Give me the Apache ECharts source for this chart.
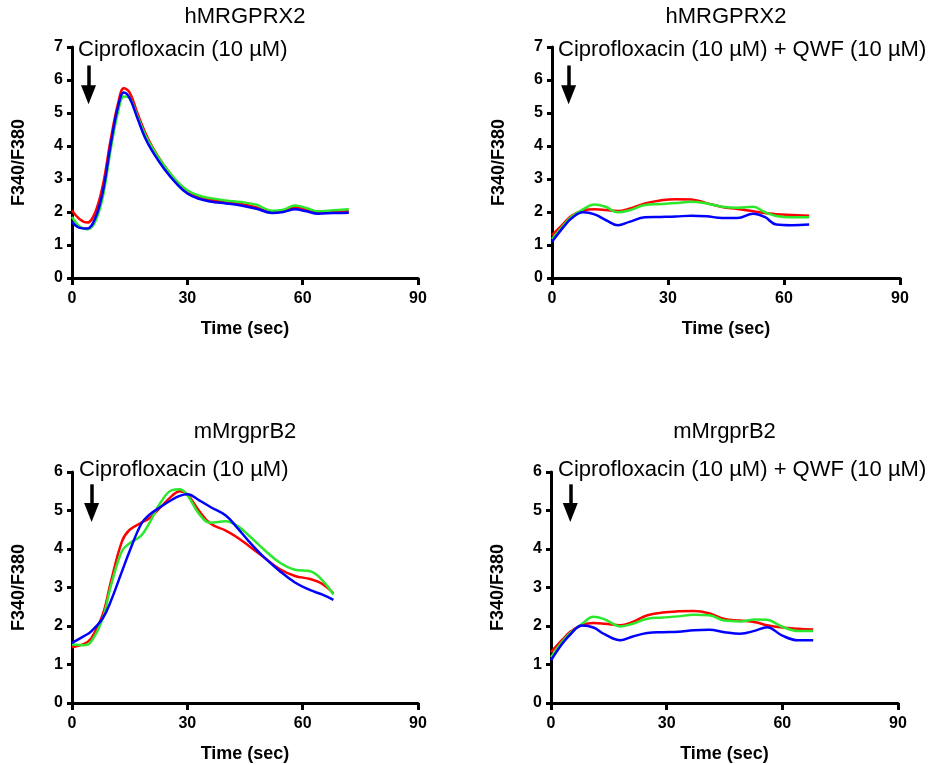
<!DOCTYPE html>
<html><head><meta charset="utf-8">
<script src="https://cdn.jsdelivr.net/npm/echarts@6/dist/echarts.min.js"></script>
<style>html,body{margin:0;padding:0;background:#fff}#c{width:935px;height:765px}</style>
</head><body><div id="c"></div>
<script>
// ---- text ----
const panelTitles = ['hMRGPRX2', 'hMRGPRX2', 'mMrgprB2', 'mMrgprB2'];
const annotations = ['Ciprofloxacin (10 µM)', 'Ciprofloxacin (10 µM) + QWF (10 µM)',
                     'Ciprofloxacin (10 µM)', 'Ciprofloxacin (10 µM) + QWF (10 µM)'];
const xName = 'Time (sec)';
const yName = 'F340/F380';
const xTicks = [0, 30, 60, 90];
const yMaxes = [7, 7, 6, 6];
const arrowTimes = [4.3, 4.3, 5.1, 5.0];
const arrowTop = [6.44, 6.44, 5.68, 5.68];
const arrowEnd = [5.55, 5.55, 4.95, 4.95];

// ---- panel 1: hMRGPRX2, Ciprofloxacin ----
const time1 = [0,2,4,6,8,10,12,13.5,15,17,19,21,24,27,30,33,36,40,44,48,52,55,58,61,64,68,72];
const red1   = [2.05,1.78,1.68,1.98,2.8,4.15,5.3,5.75,5.62,5.0,4.42,3.95,3.4,2.95,2.62,2.45,2.37,2.3,2.24,2.14,2.0,2.04,2.14,2.07,1.98,2.0,2.02];
const green1 = [1.85,1.56,1.48,1.7,2.45,3.85,5.05,5.5,5.45,4.9,4.35,3.92,3.4,2.97,2.66,2.5,2.42,2.35,2.3,2.22,2.04,2.07,2.2,2.12,2.02,2.05,2.08];
const blue1  = [1.7,1.52,1.5,1.8,2.6,4.0,5.2,5.62,5.45,4.85,4.25,3.82,3.3,2.88,2.56,2.4,2.32,2.26,2.2,2.1,1.97,2.0,2.08,2.02,1.95,1.97,1.98];

// ---- panel 2: hMRGPRX2, Ciprofloxacin + QWF ----
const time2 = [0,3,5,8,11,14,17,20,24,28,32,36,40,44,48,52,55,58,62,66.5];
const red2   = [1.3,1.65,1.88,2.04,2.08,2.06,2.03,2.1,2.26,2.35,2.39,2.38,2.27,2.15,2.09,2.02,1.97,1.93,1.91,1.89];
const green2 = [1.18,1.6,1.85,2.08,2.23,2.15,1.99,2.05,2.21,2.24,2.27,2.31,2.26,2.16,2.13,2.16,2.0,1.88,1.84,1.84];
const blue2  = [1.1,1.55,1.8,1.99,1.93,1.75,1.6,1.7,1.84,1.85,1.86,1.89,1.87,1.82,1.82,1.95,1.85,1.62,1.6,1.62];

// ---- panel 3: mMrgprB2, Ciprofloxacin ----
const time3 = [0,3,5,8,10,13,15,18,20,23,26,28,30,33,36,40,43,46,50,54,58,62,65,68];
const red3   = [1.45,1.53,1.68,2.3,3.1,4.2,4.5,4.68,4.79,5.08,5.38,5.5,5.42,5.0,4.66,4.48,4.3,4.08,3.78,3.48,3.3,3.22,3.1,2.85];
const green3 = [1.52,1.5,1.6,2.2,3.0,3.95,4.15,4.35,4.65,5.2,5.53,5.55,5.4,4.92,4.68,4.72,4.6,4.35,3.98,3.65,3.46,3.42,3.2,2.82];
const blue3  = [1.56,1.73,1.86,2.2,2.62,3.42,3.95,4.65,4.88,5.09,5.28,5.38,5.42,5.27,5.09,4.87,4.55,4.2,3.78,3.43,3.13,2.93,2.82,2.68];

// ---- panel 4: mMrgprB2, Ciprofloxacin + QWF ----
const time4 = [0,3,5,8,11,14,18,21,25,29,33,37,41,45,49,53,56,60,64,68];
const red4   = [1.32,1.65,1.85,2.02,2.08,2.06,2.02,2.1,2.28,2.35,2.38,2.39,2.33,2.18,2.14,2.1,2.02,1.96,1.93,1.91];
const green4 = [1.19,1.6,1.82,2.05,2.24,2.17,1.99,2.05,2.19,2.22,2.25,2.29,2.28,2.14,2.12,2.17,2.16,1.98,1.87,1.87];
const blue4  = [1.11,1.55,1.78,2.01,1.96,1.78,1.63,1.72,1.82,1.84,1.85,1.89,1.9,1.84,1.8,1.88,1.97,1.75,1.63,1.63];

const panels = [
  {t: time1, r: red1, g: green1, b: blue1},
  {t: time2, r: red2, g: green2, b: blue2},
  {t: time3, r: red3, g: green3, b: blue3},
  {t: time4, r: red4, g: green4, b: blue4}
];

// ---- layout / style ----
const FONT = '"Liberation Sans", Arial, Helvetica, sans-serif';
const grids = [
  {left: 72, top: 47, width: 346, height: 231},
  {left: 552, top: 47, width: 348, height: 231},
  {left: 72, top: 472, width: 346, height: 231},
  {left: 551, top: 472, width: 347, height: 231}
];
const titleY = [17, 17, 432, 432];
const annotY = [50, 50, 470, 470];
const annotX = [78, 558, 79, 558];
const COLORS = {r: '#ff0000', g: '#2ce82c', b: '#0000ff'};

const chart = echarts.init(document.getElementById('c'), null, {renderer: 'canvas'});

const xAxes = [], yAxes = [], series = [], graphics = [];
panels.forEach((p, i) => {
  xAxes.push({
    type: 'value', gridIndex: i, min: xTicks[0], max: xTicks[xTicks.length - 1],
    interval: xTicks[1] - xTicks[0],
    name: xName, nameLocation: 'middle', nameGap: 42,
    nameTextStyle: {fontFamily: FONT, fontWeight: 'bold', fontSize: 18, color: '#000'},
    axisLine: {show: true, onZero: false, lineStyle: {color: '#000', width: 3}},
    axisTick: {show: true, inside: false, length: 7, lineStyle: {color: '#000', width: 3}},
    axisLabel: {fontFamily: FONT, fontWeight: 'bold', fontSize: 16, color: '#000', margin: 13},
    splitLine: {show: false}
  });
  yAxes.push({
    type: 'value', gridIndex: i, min: 0, max: yMaxes[i], interval: 1,
    name: yName, nameLocation: 'middle', nameGap: 44, nameRotate: 90,
    nameTextStyle: {fontFamily: FONT, fontWeight: 'bold', fontSize: 18, color: '#000'},
    axisLine: {show: true, onZero: false, lineStyle: {color: '#000', width: 3}},
    axisTick: {show: true, inside: false, length: 5, lineStyle: {color: '#000', width: 3}},
    axisLabel: {fontFamily: FONT, fontWeight: 'bold', fontSize: 16, color: '#000', margin: 9},
    splitLine: {show: false}
  });
  ['r', 'g', 'b'].forEach((k, j) => {
    const s = {
      type: 'line', xAxisIndex: i, yAxisIndex: i,
      data: p.t.map((t, n) => [t, p[k][n]]),
      smooth: 0.4, showSymbol: false, symbol: 'none',
      lineStyle: {color: COLORS[k], width: 2.5},
      itemStyle: {color: COLORS[k]},
      silent: true, animation: false, z: 2 + j
    };
    if (j === 0) {
      // arrow shaft
      s.markLine = {
        silent: true, animation: false,
        symbol: ['none', 'none'],
        label: {show: false},
        lineStyle: {color: '#000', width: 3.5, type: 'solid'},
        emphasis: {disabled: true},
        data: [[{coord: [arrowTimes[i], arrowTop[i]]}, {coord: [arrowTimes[i], arrowEnd[i]]}]]
      };
      // arrow head
      s.markPoint = {
        silent: true, animation: false,
        symbol: 'triangle', symbolRotate: 180, symbolSize: [15, 19],
        label: {show: false},
        itemStyle: {color: '#000'},
        emphasis: {disabled: true},
        data: [{coord: [arrowTimes[i], arrowEnd[i]]}]
      };
    }
    series.push(s);
  });
  const g = grids[i];
  graphics.push({
    type: 'text', x: g.left + g.width / 2, y: titleY[i], silent: true,
    style: {text: panelTitles[i], font: '22px ' + FONT, fill: '#000', textAlign: 'center', textVerticalAlign: 'middle'}
  });
  graphics.push({
    type: 'text', x: annotX[i], y: annotY[i], silent: true,
    style: {text: annotations[i], font: '22px ' + FONT, fill: '#000', textAlign: 'left', textVerticalAlign: 'middle'}
  });
});

chart.setOption({
  animation: false,
  backgroundColor: '#fff',
  grid: grids.map(g => Object.assign({containLabel: false}, g)),
  xAxis: xAxes,
  yAxis: yAxes,
  series: series,
  graphic: graphics
});
</script>
</body></html>
